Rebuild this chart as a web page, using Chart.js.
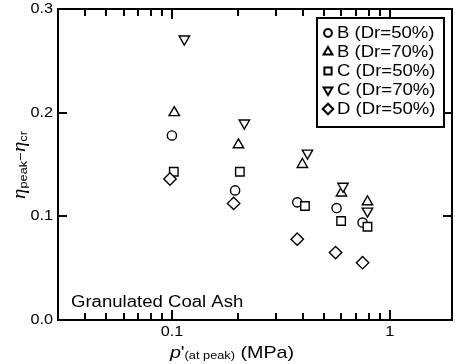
<!DOCTYPE html>
<html>
<head>
<meta charset="utf-8">
<script src="https://cdn.jsdelivr.net/npm/chart.js@4.4.1/dist/chart.umd.min.js"></script>
<style>
  html, body { margin: 0; padding: 0; background: #fff; }
</style>
</head>
<body>
<canvas id="myChart" width="455" height="364"></canvas>
<script>
(() => {
  "use strict";

  // values (x: p' at peak in MPa, y: eta_peak - eta_cr)
  const seriesNames = ["B (Dr=50%)", "B (Dr=70%)", "C (Dr=50%)", "C (Dr=70%)", "D (Dr=50%)"];
  const pB50 = [0.1, 0.195, 0.376, 0.57, 0.75];
  const etaB50 = [0.178, 0.125, 0.1135, 0.108, 0.094];
  const pB70 = [0.1025, 0.202, 0.397, 0.6, 0.79];
  const etaB70 = [0.2, 0.169, 0.15, 0.1225, 0.114];
  const pC50 = [0.102, 0.205, 0.408, 0.598, 0.79];
  const etaC50 = [0.143, 0.143, 0.11, 0.0955, 0.09];
  const pC70 = [0.114, 0.215, 0.419, 0.61, 0.79];
  const etaC70 = [0.271, 0.19, 0.161, 0.129, 0.105];
  const pD50 = [0.098, 0.192, 0.376, 0.564, 0.75];
  const etaD50 = [0.136, 0.1125, 0.078, 0.065, 0.0553];

  const xTickLabels = [0.1, 1];
  const xMinorTicks = [0.04, 0.05, 0.06, 0.07, 0.08, 0.09, 0.2, 0.3, 0.4, 0.5, 0.6, 0.7, 0.8, 0.9];
  const yTickLabels = [0, 0.1, 0.2, 0.3];

  const SX = 1.16; // text in the figure is a bit wide
  const SANS = "'Liberation Sans', Arial, sans-serif";
  const SERIF = "'Liberation Serif', 'Times New Roman', serif";

  const styles = [
    { pointStyle: "circle", radius: 4.6, rotation: 0 },
    { pointStyle: "triangle", radius: 6, rotation: 0 },
    { pointStyle: "rect", radius: 6, rotation: 0 },
    { pointStyle: "triangle", radius: 6, rotation: 180 },
    { pointStyle: "rectRot", radius: 6.2, rotation: 0 },
  ];
  const xs = [pB50, pB70, pC50, pC70, pD50];
  const ys = [etaB50, etaB70, etaC50, etaC70, etaD50];

  const datasets = seriesNames.map((name, i) => ({
    label: name,
    data: xs[i].map((x, j) => ({ x: x, y: ys[i][j] })),
    pointStyle: styles[i].pointStyle,
    pointRadius: styles[i].radius,
    rotation: styles[i].rotation,
    pointBorderWidth: 1.4,
    pointBorderColor: "#000",
    pointBackgroundColor: "#fff",
    showLine: false,
    order: 5 - i,
  }));

  function wideText(ctx, str, x, y, font, align) {
    ctx.save();
    ctx.font = font;
    const w = ctx.measureText(str).width * SX;
    let x0 = x;
    if (align === "center") x0 = x - w / 2;
    else if (align === "right") x0 = x - w;
    ctx.translate(x0, y);
    ctx.scale(SX, 1);
    ctx.textAlign = "left";
    ctx.fillText(str, 0, 0);
    ctx.restore();
    return w;
  }

  // a run of text pieces with different fonts, centred on 0
  function richText(ctx, pieces) {
    let total = 0;
    pieces.forEach((p) => {
      ctx.font = p.font;
      p.w = ctx.measureText(p.t).width * SX;
      total += p.w;
    });
    let x = -total / 2;
    pieces.forEach((p) => {
      wideText(ctx, p.t, x, p.dy || 0, p.font, "left");
      x += p.w;
    });
  }

  const marker = (ctx, opts, x, y) => {
    if (Chart.helpers && Chart.helpers.drawPoint) {
      Chart.helpers.drawPoint(ctx, opts, x, y);
    }
  };

  const framePlugin = {
    id: "frame",
    afterDraw(chart) {
      const ctx = chart.ctx;
      const a = chart.chartArea;
      const sx = chart.scales.x;
      const sy = chart.scales.y;
      const L = a.left, R = a.right, T = a.top, B = a.bottom;
      ctx.save();

      ctx.strokeStyle = "#000";
      ctx.lineWidth = 2;
      ctx.strokeRect(L, T, R - L, B - T);

      // inward ticks on all four sides
      ctx.fillStyle = "#000";
      xTickLabels.forEach((v) => {
        const px = Math.round(sx.getPixelForValue(v)) - 1;
        ctx.fillRect(px, B - 10, 2, 10);
        ctx.fillRect(px, T, 2, 10);
      });
      xMinorTicks.forEach((v) => {
        const px = Math.round(sx.getPixelForValue(v)) - 1;
        ctx.fillRect(px, B - 7, 2, 7);
        ctx.fillRect(px, T, 2, 7);
      });
      yTickLabels.forEach((v) => {
        const py = Math.round(sy.getPixelForValue(v)) - 1;
        ctx.fillRect(L, py, 9, 2);
        ctx.fillRect(R - 9, py, 9, 2);
      });

      // tick labels
      ctx.textBaseline = "middle";
      xTickLabels.forEach((v) => {
        wideText(ctx, String(v), sx.getPixelForValue(v), B + 12, "14px " + SANS, "center");
      });
      yTickLabels.forEach((v) => {
        wideText(ctx, v.toFixed(1), L - 5, sy.getPixelForValue(v), "14px " + SANS, "right");
      });

      // annotation
      ctx.textBaseline = "alphabetic";
      wideText(ctx, "Granulated Coal Ash", 71, 307, "16px " + SANS, "left");

      // x title
      ctx.save();
      ctx.translate(232, 358);
      richText(ctx, [
        { t: "p", font: "italic 17px " + SANS },
        { t: "'", font: "17px " + SANS },
        { t: "(at peak)", font: "11px " + SANS, dy: 1 },
        { t: " (MPa)", font: "17px " + SANS },
      ]);
      ctx.restore();

      // y title
      ctx.save();
      ctx.translate(25, 165);
      ctx.rotate(-Math.PI / 2);
      richText(ctx, [
        { t: "\u03b7", font: "italic 18px " + SERIF },
        { t: "peak", font: "11px " + SANS, dy: 2 },
        { t: "\u2212", font: "13px " + SANS },
        { t: "\u03b7", font: "italic 18px " + SERIF },
        { t: "cr", font: "11px " + SANS, dy: 2 },
      ]);
      ctx.restore();

      // legend box
      const lx = 317, ly = 18, lw = 127, lh = 109;
      ctx.fillStyle = "#fff";
      ctx.fillRect(lx, ly, lw, lh);
      ctx.lineWidth = 2;
      ctx.strokeRect(lx, ly, lw, lh);
      ctx.textBaseline = "middle";
      seriesNames.forEach((name, i) => {
        const yy = ly + 15 + i * 19;
        ctx.strokeStyle = "#000";
        ctx.fillStyle = "#fff";
        marker(ctx, {
          pointStyle: styles[i].pointStyle,
          radius: styles[i].radius * 0.85,
          rotation: styles[i].rotation,
          borderWidth: 1.4,
        }, 328, yy);
        ctx.fillStyle = "#000";
        wideText(ctx, name, 337, yy + 1, "16px " + SANS, "left");
      });
      ctx.restore();
    },
  };

  const chartEl = document.getElementById("myChart");
  new Chart(chartEl, {
    type: "scatter",
    data: { datasets: datasets },
    options: {
      responsive: false,
      animation: false,
      layout: { autoPadding: false, padding: { left: 58, top: 9, right: 3, bottom: 44 } },
      scales: {
        x: { type: "logarithmic", min: 0.03, max: 1.93, display: false },
        y: { type: "linear", min: 0, max: 0.3, display: false },
      },
      plugins: {
        legend: { display: false },
        tooltip: { enabled: false },
      },
    },
    plugins: [framePlugin],
  });
})();
</script>
</body>
</html>
